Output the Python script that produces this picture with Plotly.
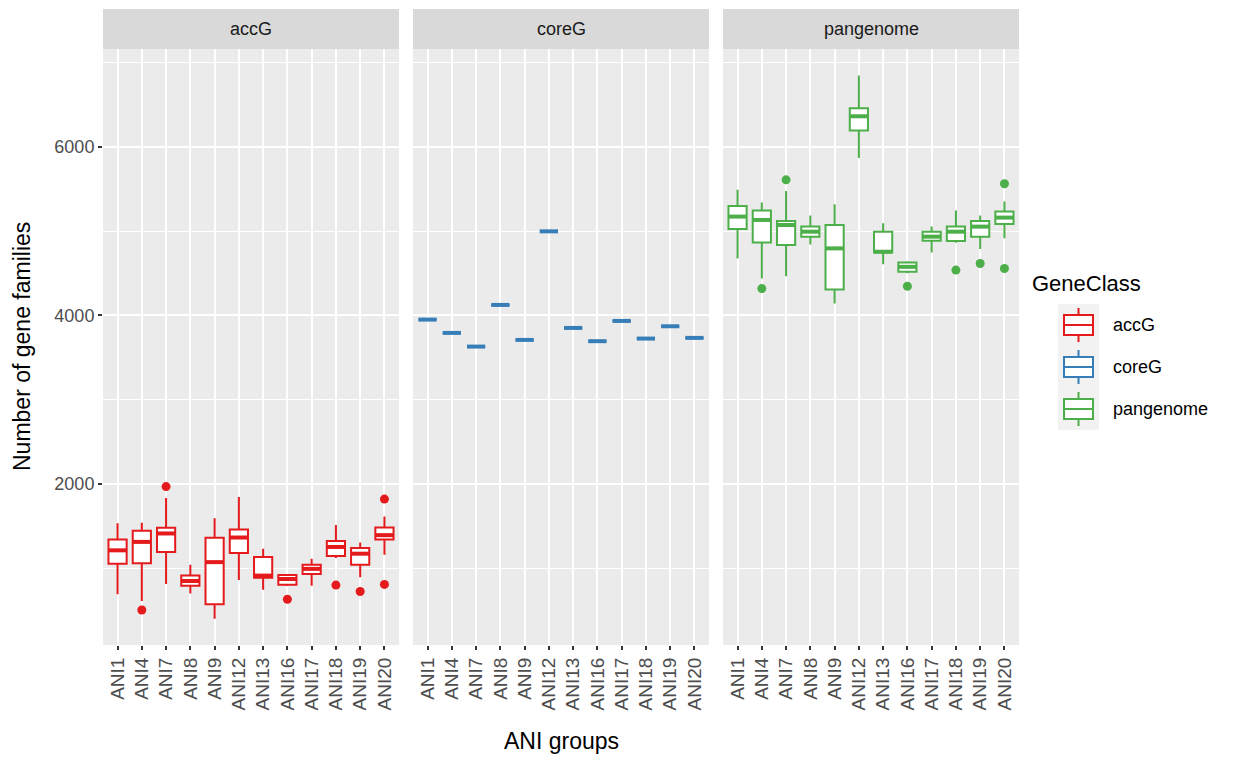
import plotly.graph_objects as go

# ANI groups shown on every facet
groups = ["ANI1", "ANI4", "ANI7", "ANI8", "ANI9", "ANI12", "ANI13",
          "ANI16", "ANI17", "ANI18", "ANI19", "ANI20"]

# Accessory genome (accG) box statistics
acc_low = [692, 612, 812, 700, 400, 860, 744, 790, 792, 1120, 892, 1160]
acc_q1 = [1052, 1060, 1192, 792, 572, 1180, 888, 804, 932, 1144, 1040, 1340]
acc_med = [1212, 1312, 1412, 848, 1072, 1364, 912, 872, 992, 1252, 1172, 1392]
acc_q3 = [1340, 1444, 1480, 912, 1360, 1460, 1132, 920, 1040, 1324, 1240, 1484]
acc_high = [1532, 1540, 1832, 1040, 1592, 1844, 1232, 930, 1112, 1512, 1304, 1612]
acc_out_group = ["ANI4", "ANI7", "ANI16", "ANI18", "ANI19", "ANI20", "ANI20"]
acc_out_value = [504, 1968, 632, 800, 724, 1820, 808]

# Core genome (coreG) counts: identical within each group
core_val = [3949, 3791, 3629, 4123, 3708, 4996, 3850, 3693, 3933, 3724, 3870, 3732]

# Pangenome box statistics
pan_low = [4674, 4436, 4464, 4841, 4139, 5865, 4607, 4500, 4746, 4860, 4786, 4913]
pan_q1 = [5024, 4865, 4833, 4933, 4305, 6191, 4746, 4516, 4885, 4881, 4933, 5083]
pan_med = [5171, 5131, 5071, 4992, 4794, 6361, 4754, 4575, 4933, 4992, 5052, 5159]
pan_q3 = [5298, 5242, 5119, 5052, 5071, 6457, 4992, 4627, 4992, 5052, 5119, 5230]
pan_high = [5488, 5337, 5476, 5183, 5318, 6846, 5091, 4640, 5052, 5242, 5183, 5349]
pan_out_group = ["ANI4", "ANI7", "ANI16", "ANI18", "ANI19", "ANI20", "ANI20"]
pan_out_value = [4317, 5607, 4345, 4536, 4615, 5560, 4555]

classes = ["accG", "coreG", "pangenome"]
colors = {"accG": "#E41A1C", "coreG": "#377EB8", "pangenome": "#4DAF4A"}

stats = {
    "accG": (acc_low, acc_q1, acc_med, acc_q3, acc_high, acc_out_group, acc_out_value),
    "coreG": (core_val, core_val, core_val, core_val, core_val, [], []),
    "pangenome": (pan_low, pan_q1, pan_med, pan_q3, pan_high, pan_out_group, pan_out_value),
}

FONT = "Liberation Sans, Arial, sans-serif"
W, H = 1238, 761
ML, MR, MT, MB = 103, 219, 49, 116
PW, PH = W - ML - MR, H - MT - MB
GAP = 14
FW = (PW - 2 * GAP) / 3
BOX_W = 0.75

pos = list(range(len(groups)))
gindex = {g: i for i, g in enumerate(groups)}


def px_x(x):
    return (x - ML) / PW


def px_y(y):
    return (H - MB - y) / PH


fig = go.Figure()
layout_axes = {}
shapes = []
annotations = []

for k, cls in enumerate(classes):
    sfx = "" if k == 0 else str(k + 1)
    xa, ya = "x" + sfx, "y" + sfx
    low, q1, med, q3, high, og, ov = stats[cls]
    col = colors[cls]

    fig.add_trace(go.Box(
        x=pos, q1=q1, median=med, q3=q3, lowerfence=low, upperfence=high,
        width=BOX_W, fillcolor="white", line=dict(color=col, width=2),
        boxpoints=False, whiskerwidth=0, xaxis=xa, yaxis=ya,
        showlegend=False, hoverinfo="skip",
    ))

    # thicker median bar across each box
    mx, my = [], []
    for i, m in zip(pos, med):
        mx += [i - BOX_W / 2, i + BOX_W / 2, None]
        my += [m, m, None]
    fig.add_trace(go.Scatter(
        x=mx, y=my, mode="lines", line=dict(color=col, width=4),
        xaxis=xa, yaxis=ya, showlegend=False, hoverinfo="skip",
    ))

    if og:
        fig.add_trace(go.Scatter(
            x=[gindex[g] for g in og], y=ov, mode="markers",
            marker=dict(color=col, size=9), xaxis=xa, yaxis=ya,
            showlegend=False, hoverinfo="skip",
        ))

    x0 = (k * (FW + GAP)) / PW
    x1 = (k * (FW + GAP) + FW) / PW
    layout_axes["xaxis" + sfx] = dict(
        domain=[x0, x1], anchor=ya, range=[-0.6, len(groups) - 0.4],
        tickvals=pos, ticktext=groups, tickangle=-90,
        ticks="outside", ticklen=4, tickwidth=1.5, tickcolor="#333333",
        tickfont=dict(family=FONT, size=19, color="#4D4D4D"),
        showgrid=True, gridcolor="white", gridwidth=1.6,
        zeroline=False, showline=False, fixedrange=True,
    )
    layout_axes["yaxis" + sfx] = dict(
        domain=[0, 1], anchor=xa, range=[89, 7159],
        tickvals=[2000, 4000, 6000], ticktext=["2000", "4000", "6000"],
        showticklabels=(k == 0), ticks="outside" if k == 0 else "",
        ticklen=4, tickwidth=1.5, tickcolor="#333333",
        tickfont=dict(family=FONT, size=18, color="#4D4D4D"),
        showgrid=True, gridcolor="white", gridwidth=1.6,
        minor=dict(tickvals=[1000, 3000, 5000, 7000], showgrid=True,
                   gridcolor="white", gridwidth=0.8, ticks=""),
        zeroline=False, showline=False, fixedrange=True,
    )

    # facet strip
    shapes.append(dict(type="rect", xref="paper", yref="paper",
                       x0=x0, x1=x1, y0=1, y1=px_y(9),
                       fillcolor="#D9D9D9", line=dict(width=0), layer="below"))
    annotations.append(dict(text=cls, xref="paper", yref="paper",
                            x=(x0 + x1) / 2, y=(1 + px_y(9)) / 2,
                            showarrow=False, xanchor="center", yanchor="middle",
                            font=dict(family=FONT, size=18, color="#1A1A1A")))

# axis titles
annotations.append(dict(text="ANI groups", xref="paper", yref="paper",
                        x=0.5, y=px_y(741), showarrow=False,
                        xanchor="center", yanchor="middle",
                        font=dict(family=FONT, size=23, color="black")))
annotations.append(dict(text="Number of gene families", xref="paper", yref="paper",
                        x=px_x(22), y=0.5, showarrow=False, textangle=-90,
                        xanchor="center", yanchor="middle",
                        font=dict(family=FONT, size=23, color="black")))

# legend
annotations.append(dict(text="GeneClass", xref="paper", yref="paper",
                        x=px_x(1030), y=px_y(283), showarrow=False,
                        xanchor="left", yanchor="middle",
                        font=dict(family=FONT, size=22, color="black")))
key_top, key_h = 304, 42
for j, cls in enumerate(classes):
    col = colors[cls]
    ty = key_top + j * key_h
    cy = ty + key_h / 2
    shapes.append(dict(type="rect", xref="paper", yref="paper",
                       x0=px_x(1058), x1=px_x(1099), y0=px_y(ty), y1=px_y(ty + key_h),
                       fillcolor="#F2F2F2", line=dict(width=0)))
    shapes.append(dict(type="line", xref="paper", yref="paper",
                       x0=px_x(1078.5), x1=px_x(1078.5), y0=px_y(cy - 17), y1=px_y(cy + 17),
                       line=dict(color=col, width=2)))
    shapes.append(dict(type="rect", xref="paper", yref="paper",
                       x0=px_x(1064), x1=px_x(1093), y0=px_y(cy - 10), y1=px_y(cy + 10),
                       fillcolor="white", line=dict(color=col, width=2)))
    shapes.append(dict(type="line", xref="paper", yref="paper",
                       x0=px_x(1064), x1=px_x(1093), y0=px_y(cy), y1=px_y(cy),
                       line=dict(color=col, width=2)))
    annotations.append(dict(text=cls, xref="paper", yref="paper",
                            x=px_x(1111), y=px_y(cy), showarrow=False,
                            xanchor="left", yanchor="middle",
                            font=dict(family=FONT, size=18, color="black")))

fig.update_layout(
    width=W, height=H,
    margin=dict(l=ML, r=MR, t=MT, b=MB, pad=0),
    paper_bgcolor="white", plot_bgcolor="#EBEBEB",
    boxgap=0, boxgroupgap=0,
    showlegend=False,
    shapes=shapes, annotations=annotations,
    **layout_axes,
)

fig.write_html("out.html")
